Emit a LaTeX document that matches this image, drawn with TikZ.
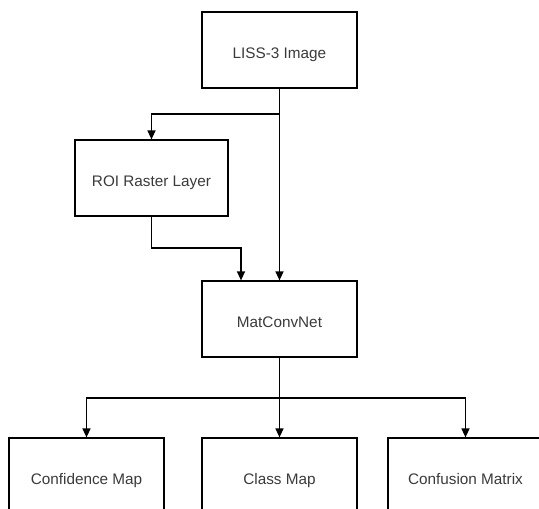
\documentclass[tikz,border=0pt]{standalone}
\usepackage{fontspec}
\setmainfont{Liberation Sans}
\usetikzlibrary{arrows.meta}
\definecolor{txt}{HTML}{3A3A3A}
\begin{document}
\begin{tikzpicture}[x=1pt,y=-1pt,
  box/.style={draw=black,line width=1.2pt,rectangle,minimum width=155pt,minimum height=76pt,inner sep=0pt,
    text height=16pt,text depth=0pt,font=\fontsize{15.3}{18}\selectfont,text=txt},
  arr/.style={draw=black,line width=1.2pt,-{Triangle[length=9pt,width=8pt]}}]
\useasboundingbox (0,0) rectangle (539,509);
\node[box] (liss) at (279.5,50) {LISS-3 Image};
\node[box,minimum width=153pt] (roi) at (151.5,178) {ROI Raster Layer};
\node[box] (mcn) at (279.5,319) {MatConvNet};
\node[box] (conf) at (86.5,476) {Confidence Map};
\node[box] (cls) at (279.5,476) {Class Map};
\node[box] (mat) at (465.5,476) {Confusion Matrix};
\coordinate (j1) at (279.5,114);
\coordinate (j2) at (151.5,248);
\coordinate (j3) at (279.5,398);
\draw[arr] (liss.south) -- (j1) -| (roi.north);
\draw[arr] (liss.south) -- (mcn.north);
\draw[arr] (roi.south) -- (j2) -| ([xshift=-38.5pt]mcn.north);
\draw[arr] (mcn.south) -- (cls.north);
\draw[arr] (j3) -| (conf.north);
\draw[arr] (j3) -| (mat.north);
\end{tikzpicture}
\end{document}
